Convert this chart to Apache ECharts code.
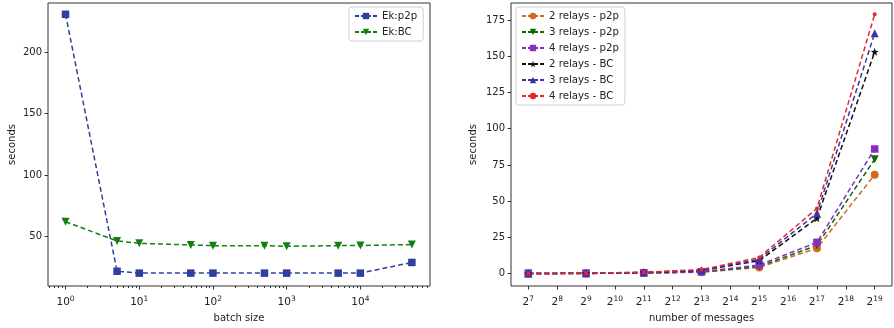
<!DOCTYPE html>
<html>
<head>
<meta charset="utf-8">
<script src="https://cdn.jsdelivr.net/npm/echarts@6/dist/echarts.min.js"></script>
<style>
  html, body { margin: 0; padding: 0; background: #fff; }
  #chart { width: 894px; height: 328px; }
</style>
</head>
<body>
<div id="chart"></div>
<script>
// left panel: batch size vs seconds
const batchSizes = [1, 5, 10, 50, 100, 500, 1000, 5000, 10000, 50000];
const ekP2p = [231, 21.5, 20, 20, 20, 20, 20, 20, 20, 28.7];
const ekBC = [61.9, 46.2, 44.3, 43, 42.4, 42.4, 41.9, 42.4, 42.5, 43.3];

// right panel: number of messages (powers of two) vs seconds
const msgExp = [7, 9, 11, 13, 15, 17, 19];
const relays2p2p = [0.05, 0.15, 0.4, 1.0, 4.3, 17.5, 68.3];
const relays3p2p = [0.05, 0.15, 0.45, 1.2, 5.0, 19.5, 78.9];
const relays4p2p = [0.05, 0.15, 0.5, 1.3, 6.0, 21.6, 86.0];
const relays2BC = [0.1, 0.3, 0.8, 2.2, 9.0, 38.2, 153];
const relays3BC = [0.1, 0.3, 0.9, 2.4, 10.0, 41.6, 165.8];
const relays4BC = [0.1, 0.35, 1.0, 2.8, 11.2, 45.0, 178.9];

const leftYTicks = [50, 100, 150, 200];
const rightYTicks = [0, 25, 50, 75, 100, 125, 150, 175];
const rightXTicks = [7, 8, 9, 10, 11, 12, 13, 14, 15, 16, 17, 18, 19];

const FONT = 'DejaVu Sans';
const TXT = '#222';
const STAR = 'path://M0,-10L2.35,-3.24L9.51,-3.09L3.8,1.24L5.88,8.09L0,4L-5.88,8.09L-3.8,1.24L-9.51,-3.09L-2.35,-3.24Z';

// minor tick positions for the log axis (2..9 in every decade)
const minorTicks = [];
for (let d = -1; d <= 4; d++) {
    for (let k = 2; k <= 9; k++) {
        const v = Math.log10(k * Math.pow(10, d));
        if (v > -0.238 && v < 4.945) minorTicks.push(v);
    }
}

const zip = (xs, ys) => xs.map((x, i) => [x, ys[i]]);

const lineSeries = (name, xi, yi, xs, ys, color, symbol, size, extra) => {
    return Object.assign({
        name: name,
        type: 'line',
        xAxisIndex: xi,
        yAxisIndex: yi,
        data: zip(xs, ys),
        symbol: symbol,
        symbolSize: size,
        showSymbol: true,
        lineStyle: { color: color, width: 1.5, type: [5, 3] },
        itemStyle: { color: color },
        emphasis: { disabled: true },
        z: 3
    }, extra || {});
};

const tickStyle = { show: true, length: 3.5, inside: false, lineStyle: { color: '#333', width: 1 } };
const labelStyle = { color: TXT, fontFamily: FONT, fontSize: 10 };
const nameStyle = { color: TXT, fontFamily: FONT, fontSize: 10 };
const powRich = {
    n: { color: TXT, fontFamily: FONT, fontSize: 10.5, lineHeight: 15 },
    s: { color: TXT, fontFamily: FONT, fontSize: 7.5, lineHeight: 9, verticalAlign: 'top' }
};
const noLine = { show: false, onZero: false };

const legendBase = {
    orient: 'vertical',
    backgroundColor: 'rgba(255,255,255,0.8)',
    borderColor: '#d0d0d0',
    borderWidth: 1,
    borderRadius: 3,
    padding: [3, 6, 3, 5],
    itemWidth: 22,
    itemHeight: 8,
    itemGap: 4,
    lineStyle: { type: [4, 2] },
    textStyle: { color: TXT, fontFamily: FONT, fontSize: 10.2, lineHeight: 12 }
};

const option = {
    animation: false,
    backgroundColor: '#fff',
    grid: [
        { left: 48, top: 3, width: 382, height: 283, show: true, borderColor: '#333', borderWidth: 1, backgroundColor: 'transparent' },
        { left: 511, top: 3, width: 381, height: 283, show: true, borderColor: '#333', borderWidth: 1, backgroundColor: 'transparent' }
    ],
    legend: [
        Object.assign({}, legendBase, { left: 349, top: 7, data: ['Ek:p2p', 'Ek:BC'] }),
        Object.assign({}, legendBase, { left: 516, top: 7,
            data: ['2 relays - p2p', '3 relays - p2p', '4 relays - p2p', '2 relays - BC', '3 relays - BC', '4 relays - BC'] })
    ],
    xAxis: [
        {
            gridIndex: 0, type: 'log', logBase: 10, position: 'bottom',
            min: Math.pow(10, -0.238), max: Math.pow(10, 4.945),
            name: 'batch size', nameLocation: 'middle', nameGap: 27, nameTextStyle: nameStyle,
            axisLine: noLine,
            axisTick: tickStyle,
            splitLine: { show: false },
            axisLabel: Object.assign({}, labelStyle, {
                margin: 9,
                showMinLabel: false, showMaxLabel: false,
                rich: powRich,
                formatter: (v) => {
                    const e = Math.log10(v);
                    if (Math.abs(e - Math.round(e)) > 1e-6) return '';
                    return '{n|10}{s|' + Math.round(e) + '}';
                }
            })
        },
        {
            gridIndex: 0, type: 'value', min: -0.238, max: 4.945, position: 'bottom',
            axisLine: noLine,
            axisLabel: { show: false },
            splitLine: { show: false },
            axisTick: { show: true, length: 2, lineStyle: { color: '#333', width: 1 }, customValues: minorTicks }
        },
        {
            gridIndex: 1, type: 'value', min: 6.4, max: 19.6, position: 'bottom',
            name: 'number of messages', nameLocation: 'middle', nameGap: 27, nameTextStyle: nameStyle,
            axisLine: noLine,
            splitLine: { show: false },
            axisTick: Object.assign({}, tickStyle, { customValues: rightXTicks }),
            axisLabel: Object.assign({}, labelStyle, {
                margin: 9,
                customValues: rightXTicks,
                rich: powRich,
                formatter: (v) => '{n|2}{s|' + v + '}'
            })
        }
    ],
    yAxis: [
        {
            gridIndex: 0, type: 'value', min: 9.5, max: 240.2, position: 'left',
            name: 'seconds', nameLocation: 'middle', nameGap: 31, nameTextStyle: nameStyle,
            axisLine: noLine,
            splitLine: { show: false },
            axisTick: Object.assign({}, tickStyle, { customValues: leftYTicks }),
            axisLabel: Object.assign({}, labelStyle, { margin: 6, customValues: leftYTicks })
        },
        {
            gridIndex: 1, type: 'value', min: -8.5, max: 186.7, position: 'left',
            name: 'seconds', nameLocation: 'middle', nameGap: 33, nameTextStyle: nameStyle,
            axisLine: noLine,
            splitLine: { show: false },
            axisTick: Object.assign({}, tickStyle, { customValues: rightYTicks }),
            axisLabel: Object.assign({}, labelStyle, { margin: 6, customValues: rightYTicks })
        }
    ],
    series: [
        lineSeries('Ek:p2p', 0, 0, batchSizes, ekP2p, '#2f3f9f', 'rect', 7.5),
        lineSeries('Ek:BC', 0, 0, batchSizes, ekBC, '#118011', 'triangle', 8, { symbolRotate: 180 }),
        lineSeries('2 relays - p2p', 2, 1, msgExp, relays2p2p, '#d2691e', 'circle', 8),
        lineSeries('3 relays - p2p', 2, 1, msgExp, relays3p2p, '#0c6a0c', 'triangle', 8, { symbolRotate: 180 }),
        lineSeries('4 relays - p2p', 2, 1, msgExp, relays4p2p, '#8a2bc2', 'rect', 7.5),
        lineSeries('2 relays - BC', 2, 1, msgExp, relays2BC, '#111111', STAR, 8),
        lineSeries('3 relays - BC', 2, 1, msgExp, relays3BC, '#3b34a8', 'triangle', 8),
        lineSeries('4 relays - BC', 2, 1, msgExp, relays4BC, '#e8272a', 'circle', 4)
    ]
};

const chart = echarts.init(document.getElementById('chart'), null, { renderer: 'canvas' });
chart.setOption(option);
</script>
</body>
</html>
